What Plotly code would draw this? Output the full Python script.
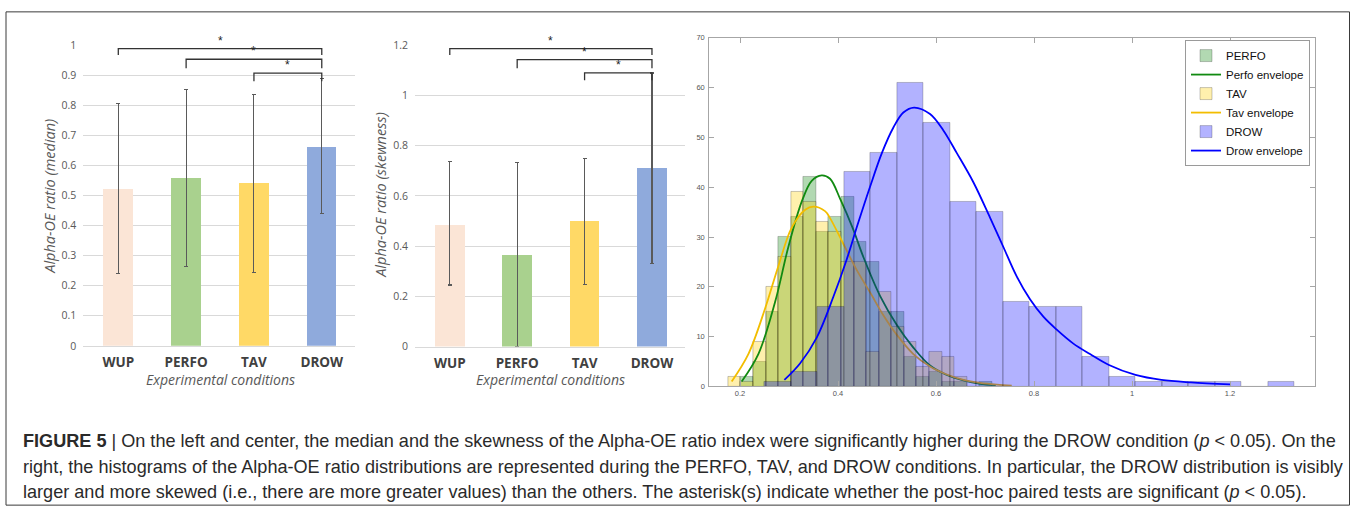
import plotly.graph_objects as go

W, H = 1356, 517

# ---------------- data: bar charts ----------------
categories = ["WUP", "PERFO", "TAV", "DROW"]
bar_colors = ["#fbe5d6", "#a9d18e", "#ffd966", "#8faadc"]

median_vals = [0.522, 0.557, 0.541, 0.661]
median_low = [0.240, 0.265, 0.245, 0.439]
median_high = [0.806, 0.851, 0.837, 0.889]
median_ticks = [0, 0.1, 0.2, 0.3, 0.4, 0.5, 0.6, 0.7, 0.8, 0.9, 1]
median_ticklabels = ["0", "0.1", "0.2", "0.3", "0.4", "0.5", "0.6", "0.7", "0.8", "0.9", "1"]
# (from, to, bracket height, leg bottom)
median_brackets = [("WUP", "DROW", 0.988, 0.967),
                   ("PERFO", "DROW", 0.953, 0.923),
                   ("TAV", "DROW", 0.907, 0.880)]

skew_vals = [0.486, 0.363, 0.498, 0.710]
skew_low = [0.245, 0.0, 0.248, 0.332]
skew_high = [0.737, 0.732, 0.750, 1.089]
skew_ticks = [0, 0.2, 0.4, 0.6, 0.8, 1.0, 1.2]
skew_ticklabels = ["0", "0.2", "0.4", "0.6", "0.8", "1", "1.2"]
skew_brackets = [("WUP", "DROW", 1.186, 1.160),
                 ("PERFO", "DROW", 1.142, 1.108),
                 ("TAV", "DROW", 1.089, 1.060)]

# ---------------- data: histograms ----------------
pt_bin_left = [0.1757, 0.2014, 0.2270, 0.2527, 0.2783, 0.3040, 0.3297, 0.3553, 0.3810,
               0.4066, 0.4323, 0.4580, 0.4836, 0.5093, 0.5349, 0.5606, 0.5863, 0.6119,
               0.6376, 0.6632, 0.6889]
pt_bin_width = 0.02566
perfo_counts = [0, 2, 5, 15, 30, 34, 42, 31, 34, 38, 29, 25, 15, 15, 6, 2, 3, 1, 1, 0, 1]
tav_counts = [2, 1, 9, 20, 26, 39, 37, 33, 31, 25, 25, 7, 19, 12, 9, 4, 7, 6, 2, 0, 0]

drow_bin_left = [0.2497, 0.3038, 0.3579, 0.4119, 0.4660, 0.5201, 0.5742, 0.6282, 0.6823,
                 0.7364, 0.7905, 0.8445, 0.8986, 0.9527, 1.0068, 1.0608, 1.1149, 1.1690,
                 1.2231, 1.2771]
drow_bin_width = 0.05408
drow_counts = [1, 3, 16, 43, 47, 61, 53, 37, 35, 17, 16, 16, 6, 2, 1, 1, 1, 1, 0, 1]

perfo_env_x = [0.2034, 0.2374, 0.2714, 0.2986, 0.3259, 0.3463, 0.3667, 0.3837, 0.405,
               0.430, 0.4517, 0.4857, 0.5197, 0.5537, 0.5878, 0.622, 0.656, 0.690, 0.722]
perfo_env_y = [1.0, 6.5, 16.9, 28.0, 37.1, 41.3, 42.4, 41.7, 37.5,
               31.8, 26.0, 18.2, 12.4, 7.8, 4.2, 2.3, 1.2, 0.5, 0.25]

tav_env_x = [0.183, 0.217, 0.251, 0.278, 0.3055, 0.333, 0.350, 0.3735, 0.3837, 0.411,
             0.438, 0.4653, 0.4925, 0.5197, 0.5537, 0.5878, 0.622, 0.656, 0.690, 0.724, 0.7545]
tav_env_y = [1.0, 6.5, 15.6, 24.1, 31.9, 35.5, 36.1, 35.2, 33.8, 28.6,
             23.4, 18.9, 14.3, 10.4, 6.5, 4.0, 2.4, 1.3, 0.7, 0.35, 0.15]

drow_env_x = [0.2905, 0.3224, 0.3565, 0.3905, 0.4177, 0.4400, 0.4650, 0.4900, 0.5130,
              0.5333, 0.5551, 0.5878, 0.6150, 0.6422, 0.6762, 0.7102, 0.7374, 0.7646,
              0.7918, 0.8190, 0.8463, 0.8803, 0.9143, 0.953, 1.007, 1.06, 1.12, 1.20]
drow_env_y = [1.3, 4.6, 9.8, 18.0, 25.5, 32.5, 40.0, 47.0, 52.0,
              55.0, 56.0, 54.7, 51.4, 46.9, 41.0, 33.9, 28.0, 22.1,
              17.5, 14.0, 11.4, 8.6, 6.5, 4.3, 2.3, 1.3, 0.8, 0.4]

hist_xticks = [0.2, 0.4, 0.6, 0.8, 1.0, 1.2]
hist_xticklabels = ["0.2", "0.4", "0.6", "0.8", "1", "1.2"]
hist_yticks = [0, 10, 20, 30, 40, 50, 60, 70]

caption_lines = [
    "<b>FIGURE 5</b> | On the left and center, the median and the skewness of the Alpha-OE ratio index were significantly higher during the DROW condition (<i>p</i> &lt; 0.05). On the",
    "right, the histograms of the Alpha-OE ratio distributions are represented during the PERFO, TAV, and DROW conditions. In particular, the DROW distribution is visibly",
    "larger and more skewed (i.e., there are more greater values) than the others. The asterisk(s) indicate whether the post-hoc paired tests are significant (<i>p</i> &lt; 0.05).",
]

# ---------------- figure ----------------
fig = go.Figure()
BAR_FONT = "Open Sans, Lato, sans-serif"
ERR_COL = "#5a5a5a"
BRACKET_COL = "#333333"


def px_x(p):
    return p / W


def px_y(p):
    return 1 - p / H


annotations = []


def add_barpanel(xa, ya, vals, low, high, brackets):
    fig.add_trace(go.Bar(
        x=categories, y=vals, width=0.44,
        marker=dict(color=bar_colors, line=dict(width=0)),
        error_y=dict(type="data", symmetric=False,
                     array=[h - v for h, v in zip(high, vals)],
                     arrayminus=[v - l for v, l in zip(vals, low)],
                     color=ERR_COL, thickness=1.1, width=2),
        xaxis=xa, yaxis=ya, showlegend=False, hoverinfo="skip"))
    for a, b, h, leg in brackets:
        fig.add_trace(go.Scatter(
            x=[a, a, b, b], y=[leg, h, h, leg], mode="lines",
            line=dict(color=BRACKET_COL, width=1.3),
            xaxis=xa, yaxis=ya, showlegend=False, hoverinfo="skip"))
        ia, ib = categories.index(a), categories.index(b)
        annotations.append(dict(
            x=(ia + ib) / 2, y=h, xref=xa, yref=ya, text="*", showarrow=False,
            xanchor="center", yanchor="bottom", yshift=-1,
            font=dict(family="Liberation Sans, Arial", size=12, color="#222")))


add_barpanel("x", "y", median_vals, median_low, median_high, median_brackets)
add_barpanel("x2", "y2", skew_vals, skew_low, skew_high, skew_brackets)

# histograms (PERFO and TAV on x3/y3, DROW on overlaying x4/y4 so it covers them)
edge_line = dict(color="rgba(0,0,0,0.28)", width=0.8)
fig.add_trace(go.Bar(
    x=[l + pt_bin_width / 2 for l in pt_bin_left], y=perfo_counts, width=pt_bin_width,
    marker=dict(color="rgba(0,128,0,0.30)", line=edge_line),
    name="PERFO", xaxis="x3", yaxis="y3", hoverinfo="skip"))
fig.add_trace(go.Scatter(
    x=perfo_env_x, y=perfo_env_y, mode="lines", line=dict(color="#118a11", width=1.8, shape="spline"),
    name="Perfo envelope", xaxis="x3", yaxis="y3", hoverinfo="skip"))
fig.add_trace(go.Bar(
    x=[l + pt_bin_width / 2 for l in pt_bin_left], y=tav_counts, width=pt_bin_width,
    marker=dict(color="rgba(255,208,0,0.32)", line=edge_line),
    name="TAV", xaxis="x3", yaxis="y3", hoverinfo="skip"))
fig.add_trace(go.Scatter(
    x=tav_env_x, y=tav_env_y, mode="lines", line=dict(color="#f2bd00", width=1.8, shape="spline"),
    name="Tav envelope", xaxis="x3", yaxis="y3", hoverinfo="skip"))
fig.add_trace(go.Bar(
    x=[l + drow_bin_width / 2 for l in drow_bin_left], y=drow_counts, width=drow_bin_width,
    marker=dict(color="rgba(0,0,255,0.30)", line=edge_line),
    name="DROW", xaxis="x4", yaxis="y4", hoverinfo="skip"))
fig.add_trace(go.Scatter(
    x=drow_env_x, y=drow_env_y, mode="lines", line=dict(color="#0000ff", width=1.8, shape="spline"),
    name="Drow envelope", xaxis="x4", yaxis="y4", hoverinfo="skip"))

# axis titles (as annotations for precise placement)
ytitle_font = dict(family=BAR_FONT, size=14.5, color="#595959")
xtitle_font = dict(family=BAR_FONT, size=14, color="#595959")
for tx, ty, txt, ang, fnt in [(50, 195, "<i>Alpha-OE ratio (median)</i>", -90, ytitle_font),
                              (220, 382.5, "<i>Experimental conditions</i>", 0, xtitle_font),
                              (381, 193, "<i>Alpha-OE ratio (skewness)</i>", -90, ytitle_font),
                              (550, 382.5, "<i>Experimental conditions</i>", 0, xtitle_font)]:
    annotations.append(dict(x=px_x(tx), y=px_y(ty), xref="paper", yref="paper", text=txt,
                            textangle=ang, showarrow=False, xanchor="center", yanchor="middle",
                            font=fnt))

for i, line in enumerate(caption_lines):
    annotations.append(dict(
        x=px_x(21), y=px_y(446 + i * 26.5), xref="paper", yref="paper", xanchor="left", yanchor="middle",
        text=line, showarrow=False, align="left",
        font=dict(family="Liberation Sans, Arial, sans-serif", size=18.1, color="#2a2a2a")))

cat_axis = dict(type="category", range=[-0.516, 3.49], showgrid=False, ticks="",
                showline=True, linecolor="#d9d9d9", linewidth=1,
                tickfont=dict(family=BAR_FONT, size=13.5, color="#404040", weight="bold"),
                ticklabelstandoff=4, fixedrange=True)
val_axis = dict(showgrid=True, gridcolor="#d9d9d9", gridwidth=1, zeroline=False, ticks="",
                showline=False, tickfont=dict(family=BAR_FONT, size=10.5, color="#595959"),
                ticklabelstandoff=6, fixedrange=True)

hist_common_x = dict(domain=[px_x(709.3), px_x(1315.3)], range=[0.1373, 1.374], fixedrange=True)
hist_common_y = dict(domain=[px_y(390), px_y(31.7)], range=[0, 70], fixedrange=True)

fig.update_layout(
    width=W, height=H, margin=dict(l=0, r=0, t=0, b=0),
    paper_bgcolor="white", plot_bgcolor="white",
    barmode="overlay", bargap=0,
    showlegend=True,
    legend=dict(x=px_x(1310), y=px_y(34), xanchor="right", yanchor="top",
                bgcolor="white", bordercolor="#9a9a9a", borderwidth=1,
                font=dict(family="Liberation Sans, Arial, sans-serif", size=11.5, color="#111"),
                tracegroupgap=0, itemwidth=30),
    xaxis=dict(cat_axis, domain=[px_x(83.3), px_x(355)], anchor="y"),
    yaxis=dict(val_axis, domain=[px_y(348.3), px_y(39)], range=[0, 1.0005], anchor="x",
               tickvals=median_ticks, ticktext=median_ticklabels),
    xaxis2=dict(cat_axis, domain=[px_x(415), px_x(685)], anchor="y2"),
    yaxis2=dict(val_axis, domain=[px_y(349), px_y(39)], range=[0, 1.2005], anchor="x2",
                tickvals=skew_ticks, ticktext=skew_ticklabels),
    xaxis3=dict(hist_common_x, anchor="y3", showgrid=False, zeroline=False,
                showline=True, linecolor="#a6a6a6", linewidth=1, mirror="ticks",
                ticks="inside", ticklen=5, tickcolor="#a6a6a6",
                tickvals=hist_xticks, ticktext=hist_xticklabels,
                tickfont=dict(family="Liberation Sans, Arial", size=7.5, color="#555")),
    yaxis3=dict(hist_common_y, anchor="x3", showgrid=False, zeroline=False,
                showline=True, linecolor="#a6a6a6", linewidth=1, mirror="ticks",
                ticks="inside", ticklen=5, tickcolor="#a6a6a6", tickvals=hist_yticks,
                ticklabelstandoff=2,
                tickfont=dict(family="Liberation Sans, Arial", size=7.5, color="#555")),
    xaxis4=dict(hist_common_x, overlaying="x3", anchor="y4", visible=False),
    yaxis4=dict(hist_common_y, overlaying="y3", anchor="x4", visible=False),
    annotations=annotations,
    shapes=[dict(type="rect", xref="paper", yref="paper", x0=px_x(6), x1=px_x(1349.5),
                 y0=px_y(512), y1=px_y(5), line=dict(color="#3a3a3a", width=1))],
)

fig.write_html("out.html")
